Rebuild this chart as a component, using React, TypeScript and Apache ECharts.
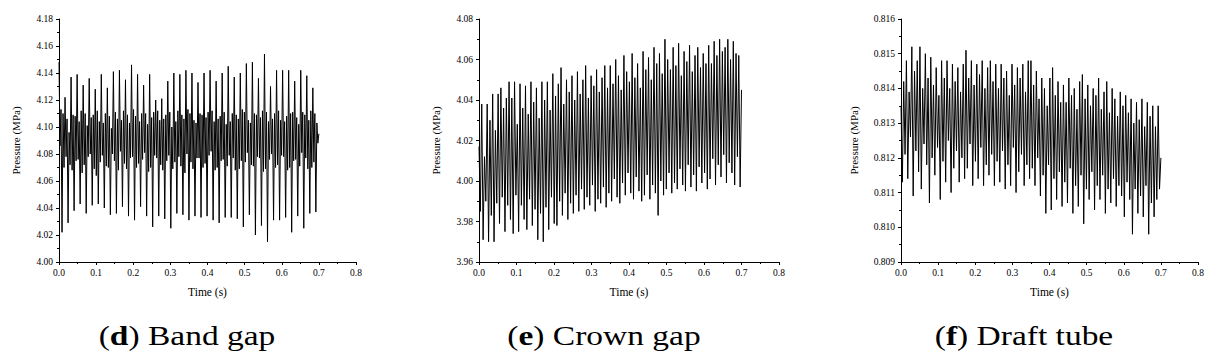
import React, { useEffect, useRef } from "react";
import * as echarts from "echarts";

// ---------- data (MPa), sampled uniformly over 0 – 0.7 s ----------
const T_END = 0.7;

// (d) Band gap: per period [peak, mid-low, mid-high, trough, mid-high, mid-low]
const bandGap = [
  4.148, 4.086, 4.113, 4.022, 4.110, 4.070,
  4.122, 4.078, 4.106, 4.029, 4.096, 4.072,
  4.137, 4.068, 4.109, 4.038, 4.108, 4.075,
  4.139, 4.076, 4.104, 4.043, 4.112, 4.066,
  4.131, 4.072, 4.110, 4.036, 4.101, 4.078,
  4.136, 4.080, 4.107, 4.042, 4.109, 4.069,
  4.128, 4.064, 4.112, 4.043, 4.104, 4.074,
  4.139, 4.079, 4.103, 4.040, 4.110, 4.071,
  4.129, 4.070, 4.108, 4.035, 4.099, 4.080,
  4.141, 4.075, 4.111, 4.036, 4.106, 4.068,
  4.142, 4.082, 4.105, 4.041, 4.112, 4.073,
  4.135, 4.069, 4.109, 4.034, 4.103, 4.077,
  4.146, 4.078, 4.113, 4.031, 4.108, 4.070,
  4.139, 4.073, 4.104, 4.041, 4.110, 4.076,
  4.131, 4.081, 4.110, 4.034, 4.102, 4.067,
  4.139, 4.070, 4.107, 4.026, 4.111, 4.079,
  4.120, 4.077, 4.112, 4.034, 4.105, 4.072,
  4.121, 4.068, 4.106, 4.032, 4.109, 4.075,
  4.134, 4.079, 4.111, 4.025, 4.100, 4.069,
  4.140, 4.074, 4.104, 4.036, 4.112, 4.078,
  4.139, 4.071, 4.109, 4.035, 4.106, 4.066,
  4.142, 4.080, 4.113, 4.031, 4.110, 4.074,
  4.140, 4.069, 4.105, 4.034, 4.103, 4.077,
  4.133, 4.077, 4.110, 4.033, 4.109, 4.070,
  4.140, 4.073, 4.107, 4.034, 4.111, 4.079,
  4.142, 4.082, 4.112, 4.031, 4.104, 4.068,
  4.134, 4.070, 4.106, 4.029, 4.108, 4.075,
  4.140, 4.076, 4.111, 4.033, 4.102, 4.071,
  4.145, 4.079, 4.104, 4.033, 4.110, 4.077,
  4.137, 4.068, 4.109, 4.032, 4.106, 4.069,
  4.140, 4.075, 4.113, 4.026, 4.111, 4.074,
  4.147, 4.081, 4.105, 4.035, 4.103, 4.072,
  4.148, 4.071, 4.110, 4.020, 4.109, 4.078,
  4.136, 4.077, 4.107, 4.027, 4.112, 4.067,
  4.154, 4.069, 4.111, 4.015, 4.104, 4.076,
  4.130, 4.080, 4.106, 4.031, 4.110, 4.070,
  4.142, 4.072, 4.112, 4.031, 4.105, 4.079,
  4.142, 4.078, 4.104, 4.033, 4.108, 4.068,
  4.142, 4.070, 4.110, 4.022, 4.111, 4.075,
  4.134, 4.076, 4.107, 4.034, 4.102, 4.071,
  4.142, 4.081, 4.111, 4.025, 4.109, 4.077,
  4.138, 4.069, 4.105, 4.036, 4.112, 4.070,
  4.129, 4.074, 4.110, 4.037, 4.103, 4.088,
  4.095,
];

// (e) Crown gap: alternating high / low
const crownGap = [
  4.017, 3.985, 4.038, 3.971, 4.012, 3.990, 4.038, 3.970, 4.030, 3.983, 4.043, 3.970,
  4.025, 3.989, 4.043, 3.979, 4.046, 3.992, 4.036, 3.975, 4.041, 3.988, 4.049, 3.981,
  4.041, 3.974, 4.049, 3.993, 4.028, 3.975, 4.048, 3.988, 4.036, 3.981, 4.047, 3.976,
  4.033, 3.991, 4.049, 3.978, 4.039, 3.986, 4.046, 3.971, 4.031, 3.984, 4.049, 3.970,
  4.040, 3.987, 4.049, 3.976, 4.035, 3.992, 4.053, 3.979, 4.042, 3.978, 4.048, 3.990,
  4.056, 3.983, 4.038, 3.994, 4.050, 3.981, 4.044, 3.989, 4.052, 3.984, 4.040, 3.993,
  4.054, 3.985, 4.043, 3.996, 4.050, 3.986, 4.057, 3.992, 4.041, 3.988, 4.052, 3.998,
  4.047, 3.985, 4.055, 3.991, 4.044, 3.989, 4.051, 3.997, 4.057, 3.987, 4.046, 3.994,
  4.057, 3.990, 4.048, 4.001, 4.060, 3.992, 4.052, 3.989, 4.045, 3.999, 4.062, 3.993,
  4.054, 4.004, 4.049, 3.994, 4.063, 3.991, 4.051, 4.002, 4.058, 3.995, 4.046, 3.990,
  4.064, 3.993, 4.055, 4.003, 4.061, 3.991, 4.050, 3.998, 4.066, 3.994, 4.058, 3.983,
  4.063, 4.000, 4.053, 3.993, 4.070, 3.996, 4.060, 4.004, 4.055, 3.994, 4.066, 3.999,
  4.057, 3.996, 4.068, 4.006, 4.052, 3.998, 4.064, 3.995, 4.059, 4.008, 4.067, 3.997,
  4.054, 4.003, 4.062, 3.995, 4.066, 4.007, 4.056, 3.999, 4.063, 4.004, 4.058, 3.996,
  4.067, 4.001, 4.058, 4.011, 4.069, 3.998, 4.062, 4.008, 4.070, 4.002, 4.064, 4.013,
  4.066, 3.999, 4.070, 4.009, 4.060, 4.004, 4.069, 3.998, 4.063, 4.012, 4.062, 3.997,
  4.045,
];

// (f) Draft tube: alternating high / low
const draftTube = [
  0.8135, 0.8113, 0.8142, 0.8121, 0.8148, 0.8114, 0.8139, 0.8126, 0.8152, 0.8109, 0.8145, 0.8122,
  0.8148, 0.8116, 0.8152, 0.8111, 0.8140, 0.8124, 0.8150, 0.8118, 0.8143, 0.8107, 0.8149, 0.8120,
  0.8141, 0.8115, 0.8146, 0.8123, 0.8138, 0.8108, 0.8148, 0.8119, 0.8143, 0.8113, 0.8148, 0.8125,
  0.8140, 0.8110, 0.8147, 0.8117, 0.8142, 0.8122, 0.8146, 0.8113, 0.8139, 0.8120, 0.8147, 0.8114,
  0.8151, 0.8117, 0.8143, 0.8124, 0.8148, 0.8112, 0.8141, 0.8119, 0.8147, 0.8114, 0.8144, 0.8123,
  0.8148, 0.8112, 0.8140, 0.8118, 0.8146, 0.8115, 0.8148, 0.8121, 0.8142, 0.8112, 0.8147, 0.8119,
  0.8140, 0.8113, 0.8147, 0.8122, 0.8143, 0.8111, 0.8145, 0.8118, 0.8138, 0.8112, 0.8147, 0.8123,
  0.8141, 0.8110, 0.8146, 0.8116, 0.8143, 0.8121, 0.8147, 0.8112, 0.8139, 0.8118, 0.8148, 0.8114,
  0.8148, 0.8117, 0.8141, 0.8112, 0.8145, 0.8120, 0.8137, 0.8109, 0.8143, 0.8115, 0.8140, 0.8104,
  0.8135, 0.8118, 0.8143, 0.8105, 0.8146, 0.8114, 0.8138, 0.8108, 0.8142, 0.8116, 0.8136, 0.8106,
  0.8141, 0.8113, 0.8136, 0.8107, 0.8143, 0.8117, 0.8138, 0.8104, 0.8140, 0.8112, 0.8134, 0.8106,
  0.8142, 0.8115, 0.8144, 0.8101, 0.8137, 0.8111, 0.8141, 0.8108, 0.8135, 0.8116, 0.8140, 0.8105,
  0.8138, 0.8112, 0.8143, 0.8108, 0.8134, 0.8115, 0.8139, 0.8104, 0.8142, 0.8111, 0.8133, 0.8107,
  0.8140, 0.8114, 0.8137, 0.8106, 0.8132, 0.8112, 0.8139, 0.8109, 0.8135, 0.8103, 0.8138, 0.8113,
  0.8133, 0.8108, 0.8137, 0.8098, 0.8130, 0.8111, 0.8136, 0.8104, 0.8131, 0.8109, 0.8137, 0.8103,
  0.8129, 0.8112, 0.8136, 0.8098, 0.8132, 0.8107, 0.8135, 0.8103, 0.8129, 0.8108, 0.8135, 0.8111,
  0.8120,
];

// ---------- axes / labels ----------
const xMin = 0;
const xMax = 0.8;
const xStep = 0.1;
const yMins = [4.0, 3.96, 0.809];
const yMaxs = [4.18, 4.08, 0.816];
const ySteps = [0.02, 0.02, 0.001];
const yDecimals = [2, 2, 3];
const captionLetters = ["d", "e", "f"];
const captionTexts = ["Band gap", "Crown gap", "Draft tube"];
const xAxisName = "Time (s)";
const yAxisName = "Pressure (MPa)";

const SERIF = "'Liberation Serif', 'Times New Roman', serif";

function toPairs(values: number[]) {
  const dt = T_END / (values.length - 1);
  return values.map((v, i) => [i * dt, v]);
}

export default function App() {
  const ref = useRef<HTMLDivElement>(null);

  useEffect(() => {
    if (!ref.current) return;
    const chart = echarts.init(ref.current, undefined, { renderer: "svg" });

    const grids = [
      { left: 59, top: 19, width: 297, height: 243 },
      { left: 479, top: 19, width: 300, height: 243 },
      { left: 901, top: 19, width: 297, height: 243 },
    ];
    const yNameGaps = [38, 38, 42];
    const captionX = [187, 604, 1024];
    const datasets = [bandGap, crownGap, draftTube];

    const axisLine = { show: true, onZero: false, lineStyle: { color: "#000", width: 1 } };
    const axisTick = { show: true, length: 3, lineStyle: { color: "#000", width: 1 } };
    const minorTick = { show: true, splitNumber: 2, length: 2, lineStyle: { color: "#000", width: 1 } };

    const option: any = {
      animation: false,
      backgroundColor: "#fff",
      grid: grids,
      xAxis: grids.map((_, i) => ({
        type: "value",
        gridIndex: i,
        min: xMin,
        max: xMax,
        interval: xStep,
        name: xAxisName,
        nameLocation: "middle",
        nameGap: 24,
        nameTextStyle: { fontFamily: SERIF, fontSize: 11.5, color: "#000" },
        axisLine,
        axisTick,
        minorTick,
        splitLine: { show: false },
        axisLabel: {
          fontFamily: SERIF,
          fontSize: 9.5,
          color: "#000",
          margin: 6,
          formatter: (v: number) => v.toFixed(1),
        },
      })),
      yAxis: grids.map((_, i) => ({
        type: "value",
        gridIndex: i,
        min: yMins[i],
        max: yMaxs[i],
        interval: ySteps[i],
        name: yAxisName,
        nameLocation: "middle",
        nameGap: yNameGaps[i],
        nameTextStyle: { fontFamily: SERIF, fontSize: 11, color: "#000" },
        axisLine,
        axisTick,
        minorTick,
        splitLine: { show: false },
        axisLabel: {
          fontFamily: SERIF,
          fontSize: 9.5,
          color: "#000",
          margin: 6,
          formatter: (v: number) => v.toFixed(yDecimals[i]),
        },
      })),
      series: datasets.map((vals, i) => ({
        type: "line",
        xAxisIndex: i,
        yAxisIndex: i,
        data: toPairs(vals),
        showSymbol: false,
        symbol: "none",
        lineStyle: { color: "#000", width: 1 },
        silent: true,
      })),
      graphic: captionLetters.map((letter, i) => ({
        type: "text",
        x: captionX[i],
        y: 336,
        scaleX: 1.24,
        style: {
          text: `({b|${letter}}) ${captionTexts[i]}`,
          fontFamily: SERIF,
          fontSize: 27,
          fill: "#000",
          align: "center",
          verticalAlign: "middle",
          rich: {
            b: { fontFamily: SERIF, fontSize: 27, fontWeight: "bold", fill: "#000" },
          },
        },
      })),
    };

    chart.setOption(option);
    return () => chart.dispose();
  }, []);

  return (
    <div
      ref={ref}
      style={{ position: "fixed", left: 0, top: 0, width: 1213, height: 360, background: "#fff" }}
    />
  );
}
